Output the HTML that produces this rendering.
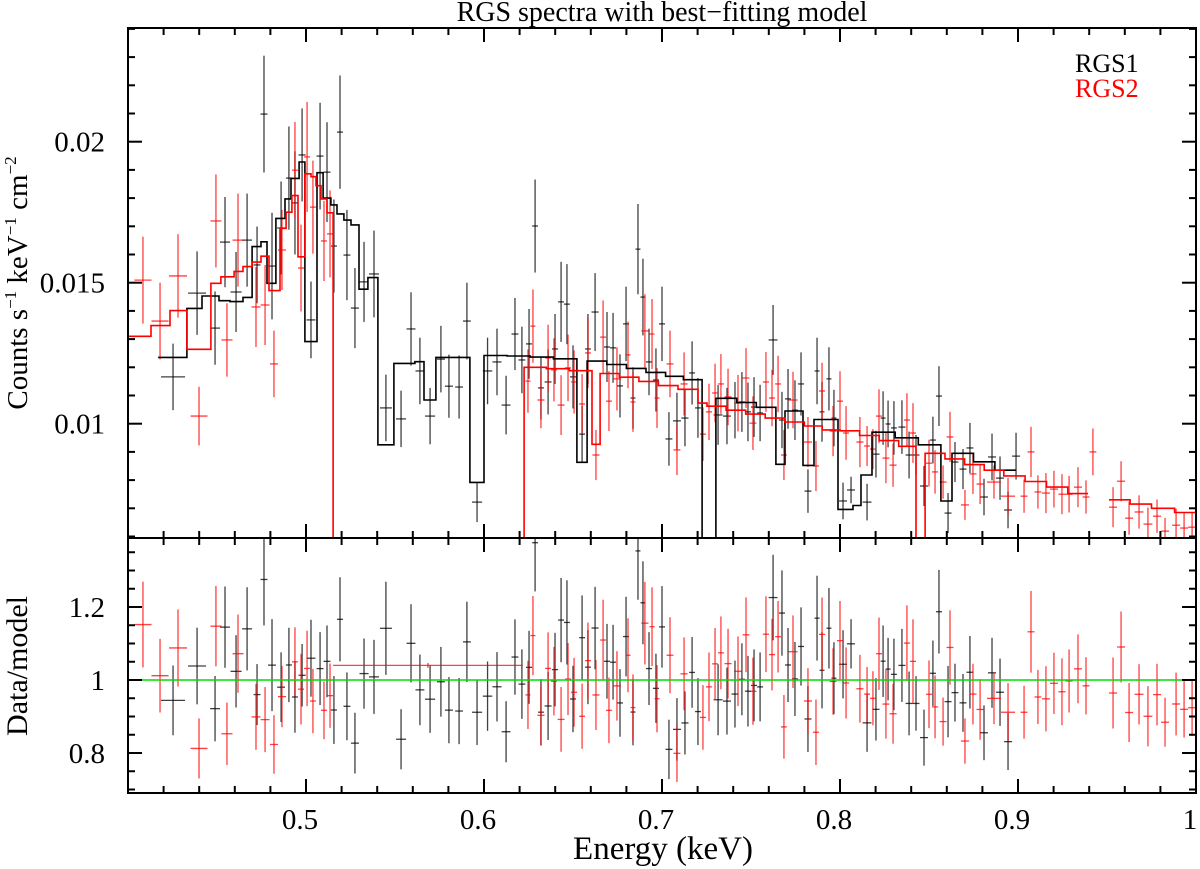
<!DOCTYPE html>
<html><head><meta charset="utf-8"><style>
html,body{margin:0;padding:0;background:#fff;}
svg{display:block;font-family:"Liberation Serif",serif;}
</style></head><body>
<svg id="chart" width="1200" height="869" viewBox="0 0 1200 869" xmlns="http://www.w3.org/2000/svg">
<defs>
<clipPath id="clipTop"><rect x="128" y="28" width="1068" height="510"/></clipPath>
<clipPath id="clipBot"><rect x="128" y="538" width="1068" height="255"/></clipPath>
</defs>
<text x="662" y="21" font-size="28" text-anchor="middle">RGS spectra with best−fitting model</text>
<g id="layer"></g>
<text x="1075" y="72" font-size="26" fill="#000">RGS1</text>
<text x="1075" y="97" font-size="26" fill="#ff0000">RGS2</text>
<text transform="translate(27,283) rotate(-90)" font-size="29" text-anchor="middle">Counts s<tspan font-size="17" dy="-11">−1</tspan><tspan dy="11"> keV</tspan><tspan font-size="17" dy="-11">−1</tspan><tspan dy="11"> cm</tspan><tspan font-size="17" dy="-11">−2</tspan></text>
<text transform="translate(27,666) rotate(-90)" font-size="30" text-anchor="middle">Data/model</text>
<text x="663" y="859" font-size="33" text-anchor="middle">Energy (keV)</text>
</svg>
<script>
// ---- data (energy keV, counts in 1e-3 units) ----
const rgs1E=[0.4253,0.4388,0.4489,0.4545,0.4607,0.4669,0.4725,0.4764,0.4809,0.4860,0.4904,0.4938,0.4978,0.5028,0.5079,0.5118,0.5157,0.5191,0.5230,0.5275,0.5326,0.5382,0.5449,0.5534,0.5590,0.5640,0.5697,0.5758,0.5803,0.5860,0.5904,0.5961,0.6020,0.6073,0.6124,0.6174,0.6213,0.6253,0.6287,0.6320,0.6360,0.6399,0.6433,0.6466,0.6500,0.6551,0.6584,0.6624,0.6691,0.6725,0.6764,0.6798,0.6837,0.6865,0.6893,0.6927,0.6966,0.7000,0.7039,0.7084,0.7129,0.7169,0.7202,0.7315,0.7365,0.7410,0.7449,0.7483,0.7517,0.7551,0.7624,0.7674,0.7708,0.7747,0.7781,0.7820,0.7871,0.7899,0.7938,0.7966,0.8017,0.8062,0.8152,0.8202,0.8242,0.8270,0.8303,0.8348,0.8388,0.8427,0.8472,0.8522,0.8556,0.8607,0.8646,0.8691,0.8730,0.8809,0.8854,0.8899,0.8944,0.8989];
const rgs1V=[11.66,14.63,13.39,16.44,14.67,16.51,15.63,20.98,15.59,16.94,18.71,17.83,19.53,13.68,19.49,18.92,16.30,20.34,15.98,14.10,15.03,15.31,10.56,10.17,13.36,11.87,10.27,12.29,11.33,11.30,13.64,7.22,11.87,12.19,10.66,13.18,12.26,12.83,17.01,11.27,11.48,12.65,14.32,14.24,11.66,9.63,12.65,13.96,12.72,12.69,11.34,13.54,10.91,16.19,14.49,12.19,11.55,13.54,9.46,10.10,10.20,11.80,10.56,10.31,10.27,10.48,10.77,10.42,10.59,10.38,12.97,10.13,10.88,10.48,11.41,7.61,11.87,10.42,11.59,10.20,7.26,7.65,7.22,8.92,10.20,9.99,9.85,9.88,8.89,8.89,7.79,9.42,10.98,6.83,8.64,8.39,9.14,7.40,8.82,8.07,6.94,8.85];
const rgs1Err=[1.18,1.48,1.30,1.60,1.42,1.65,1.36,2.07,1.89,1.65,1.83,1.83,1.65,1.36,1.89,1.77,1.65,2.01,1.60,1.42,1.42,1.54,1.18,1.00,1.30,1.18,1.00,1.18,1.12,1.12,1.36,0.71,1.18,1.18,1.04,1.28,1.18,1.24,1.65,1.12,1.15,1.24,1.42,1.42,1.12,1.00,1.24,1.38,1.24,1.24,1.12,1.32,1.09,1.60,1.36,1.18,1.12,1.32,0.95,1.00,1.00,1.12,1.06,1.06,1.00,1.00,1.06,1.04,1.06,1.00,1.24,1.00,1.06,1.06,1.12,0.77,1.18,1.06,1.12,1.00,0.65,0.47,0.65,0.83,0.95,0.83,0.95,0.95,0.83,0.71,0.71,0.83,1.06,0.71,0.71,0.71,0.89,0.65,0.83,0.77,0.65,0.83];
const rgs2E=[0.4084,0.4180,0.4281,0.4399,0.4494,0.4556,0.4618,0.4719,0.4770,0.4820,0.4865,0.4938,0.4972,0.5006,0.5039,0.5101,0.5135,0.5685,0.6247,0.6275,0.6320,0.6360,0.6393,0.6433,0.6472,0.6506,0.6551,0.6584,0.6629,0.6669,0.6702,0.6747,0.6809,0.6837,0.6904,0.6944,0.6972,0.7045,0.7084,0.7124,0.7230,0.7264,0.7298,0.7331,0.7371,0.7427,0.7472,0.7511,0.7584,0.7618,0.7652,0.7685,0.7736,0.7820,0.7865,0.7899,0.7961,0.8000,0.8034,0.8112,0.8152,0.8185,0.8219,0.8258,0.8298,0.8376,0.8410,0.8500,0.8534,0.8579,0.8618,0.8702,0.8747,0.8787,0.8865,0.8944,0.9034,0.9073,0.9112,0.9157,0.9202,0.9247,0.9287,0.9337,0.9382,0.9421,0.9534,0.9579,0.9624,0.9680,0.9730,0.9781,0.9826,0.9888,0.9933,0.9978];
const rgs2V=[15.09,13.64,15.24,10.27,17.19,12.97,16.51,14.14,14.21,12.12,16.16,18.99,15.52,19.46,17.68,16.48,16.73,3.12,11.51,13.46,10.84,12.33,11.91,10.66,11.98,11.48,10.70,12.51,8.89,13.07,10.80,11.59,12.44,10.77,13.29,13.18,10.91,12.12,9.07,11.41,9.63,10.42,11.09,11.41,10.95,10.73,11.62,10.02,11.48,10.91,11.41,8.89,10.84,9.35,8.50,11.16,9.74,10.80,9.67,9.35,9.21,9.10,10.27,8.78,8.53,10.13,9.67,8.60,8.29,7.93,9.53,7.12,8.22,7.86,7.93,7.43,7.43,9.00,7.58,7.54,7.68,7.50,7.50,7.75,7.40,9.00,7.04,7.96,6.65,6.87,6.44,6.72,6.19,6.40,6.30,6.33];
const rgs2Err=[1.54,1.36,1.48,1.04,1.65,1.30,1.65,1.42,1.42,1.18,1.42,1.71,1.54,1.95,1.65,1.42,1.54,0.02,1.12,1.30,1.00,1.18,1.12,1.06,1.18,1.12,1.06,1.24,0.89,1.30,1.06,1.12,1.18,1.06,1.30,1.24,1.06,1.18,0.89,1.12,0.95,1.00,1.04,1.06,1.00,1.00,1.06,0.95,1.06,1.00,1.00,0.89,1.00,0.89,0.89,1.00,0.89,1.06,0.95,0.89,0.71,0.71,0.95,0.89,0.77,0.95,1.06,0.83,0.77,0.59,0.89,0.53,0.71,0.71,0.59,0.65,0.59,0.89,0.59,0.71,0.65,0.71,0.65,0.71,0.59,0.83,0.71,0.71,0.59,0.59,0.59,0.59,0.47,0.59,0.53,0.53];
// model step functions: bin edges and values
const model1Edges=[0.4169,0.4331,0.4416,0.4511,0.4573,0.4646,0.4697,0.4747,0.4781,0.4831,0.4882,0.4916,0.4961,0.4994,0.5062,0.5096,0.5140,0.5174,0.5213,0.5253,0.5298,0.5348,0.5404,0.5494,0.5612,0.5663,0.5730,0.5921,0.6000,0.6130,0.6260,0.6390,0.6522,0.6579,0.6690,0.6800,0.6910,0.7020,0.7120,0.7225,0.7303,0.7420,0.7530,0.7640,0.7691,0.7792,0.7854,0.7989,0.8073,0.8118,0.8180,0.8310,0.8440,0.8567,0.8629,0.8750,0.8870,0.8989];
const model1Vals=[12.35,14.09,14.53,14.36,14.33,14.48,16.28,16.45,14.98,17.28,17.97,18.70,19.28,12.91,18.90,18.00,17.76,17.44,17.22,17.05,14.77,15.18,9.25,12.14,12.20,10.84,12.35,7.92,12.42,12.40,12.36,12.30,8.63,12.22,12.10,11.96,11.82,11.68,11.56,3.0,10.90,10.75,10.58,8.56,10.45,8.52,10.15,6.96,7.10,8.18,9.70,9.50,9.25,7.26,8.95,8.65,8.35];
const model2Edges=[0.4000,0.4129,0.4236,0.4331,0.4466,0.4522,0.4596,0.4646,0.4697,0.4747,0.4792,0.4854,0.4888,0.4921,0.4955,0.4994,0.5028,0.5056,0.5084,0.5118,0.5152,0.6225,0.6350,0.6480,0.6607,0.6652,0.6760,0.6870,0.6980,0.7090,0.7202,0.7253,0.7360,0.7470,0.7580,0.7690,0.7800,0.7900,0.8000,0.8110,0.8220,0.8330,0.8427,0.8478,0.8590,0.8700,0.8810,0.8920,0.9040,0.9160,0.9280,0.9393];
const model2Vals=[13.10,13.48,14.01,12.64,14.98,15.21,15.40,15.57,15.73,15.94,14.72,16.93,17.50,18.09,15.92,18.86,18.76,18.44,17.97,17.48,3.0,12.00,11.95,11.88,9.27,11.78,11.65,11.50,11.35,11.22,10.73,10.62,10.48,10.34,10.20,10.06,9.92,9.78,9.75,9.58,9.40,9.20,3.0,8.95,8.75,8.55,8.35,8.15,7.95,7.75,7.52];
const model2bEdges=[0.9511,0.9630,0.9750,0.9880,1.0000];
const model2bVals=[7.30,7.15,7.00,6.85];
const xTicks=[0.5,0.6,0.7,0.8,0.9,1.0];
const xTickLabels=["0.5","0.6","0.7","0.8","0.9","1"];
const yTopTicks=[10,15,20];
const yTopLabels=["0.01","0.015","0.02"];
const yBotTicks=[0.8,1.0,1.2];
const yBotLabels=["0.8","1","1.2"];

const NS="http://www.w3.org/2000/svg";
const L=128,R=1196,T1=28,B1=538,T2=538,B2=793;
const xs=e=>L+(e-0.4)*1780;
const yTop=v=>141.7+(20-v)*28.2;
const yBot=r=>680-(r-1)*365;
const layer=document.getElementById('layer');
function mk(tag,attrs,parent){const el=document.createElementNS(NS,tag);for(const k in attrs)el.setAttribute(k,attrs[k]);(parent||layer).appendChild(el);return el;}
function modelAt(edges,vals,e){for(let i=0;i<vals.length;i++){if(e>=edges[i]&&e<edges[i+1])return vals[i];}return null;}
function model2At(e){let m=modelAt(model2Edges,model2Vals,e);if(m===null)m=modelAt(model2bEdges,model2bVals,e);return m;}
function model1At(e){let m=modelAt(model1Edges,model1Vals,e);if(m===null&&e<model1Edges[0])m=model1Vals[0];return m;}

const gTop=mk('g',{'clip-path':'url(#clipTop)'});


const gBot=mk('g',{'clip-path':'url(#clipBot)'});



function stepPath(edges,vals){let d='';for(let i=0;i<vals.length;i++){const x0=xs(edges[i]),x1=xs(edges[i+1]),y=yTop(vals[i]);d+=(i===0?'M':'L')+x0.toFixed(1)+','+y.toFixed(1)+'L'+x1.toFixed(1)+','+y.toFixed(1);}return d;}
function halfWidths(E){return E.map((e,i)=>{const p=i>0?e-E[i-1]:1,n=i<E.length-1?E[i+1]-e:1;let h=Math.min(p,n)/2;if(h>0.012)h=0.012;return h;});}

function drawData(E,V,Er,color,modelFn,name){
  const hw=halfWidths(E);
  for(let i=0;i<E.length;i++){
    let h=hw[i];
    if(name==='rgs2'&&V[i]<5)h=0.0533;
    const x=xs(E[i]),y=yTop(V[i]),ey=Er[i]*28.2;
    const g=mk('g',{stroke:color,'stroke-width':1.3,'stroke-opacity':0.75},gTop);
    
    
    mk('line',{x1:xs(E[i]-h),x2:xs(E[i]+h),y1:y,y2:y},g);
    mk('line',{x1:x,x2:x,y1:y-ey,y2:y+ey},g);
    const m=modelFn(E[i]);
    if(m){
      const r=V[i]/m,er=Er[i]/m,yr=yBot(r);
      const g2=mk('g',{stroke:color,'stroke-width':1.3,'stroke-opacity':0.75},gBot);
      
      
      mk('line',{x1:xs(E[i]-h),x2:xs(E[i]+h),y1:yr,y2:yr},g2);
      if(er*365>1)mk('line',{x1:x,x2:x,y1:yr-er*365,y2:yr+er*365},g2);
    }
  }
}
drawData(rgs1E,rgs1V,rgs1Err,'#000',model1At,'rgs1');
drawData(rgs2E,rgs2V,rgs2Err,'#ff0000',model2At,'rgs2');

const m1=mk('path',{d:stepPath(model1Edges,model1Vals),fill:'none',stroke:'#000','stroke-width':1.6},gTop);


const m2=mk('path',{d:stepPath(model2Edges,model2Vals),fill:'none',stroke:'#ff0000','stroke-width':1.6},gTop);


const m2b=mk('path',{d:stepPath(model2bEdges,model2bVals),fill:'none',stroke:'#ff0000','stroke-width':1.6},gTop);



const unity=mk('line',{x1:L,x2:R,y1:yBot(1),y2:yBot(1),stroke:'#00dd00','stroke-width':1.6});



const ax=mk('g',{stroke:'#000','stroke-width':2,fill:'none'});


mk('rect',{x:L,y:T1,width:R-L,height:B2-T1},ax);
mk('line',{x1:L,x2:R,y1:B1,y2:B1},ax);
for(let k=0;k<=30;k++){
  const e=0.4+k*0.02;const x=xs(e);const major=(k%5===0);const len=major?14:7;
  [[T1,1],[B1,-1],[T2,1],[B2,-1]].forEach(([y,s])=>mk('line',{x1:x,x2:x,y1:y,y2:y+s*len},ax));
}
for(let v=6;v<=24;v++){const y=yTop(v);if(y<T1||y>B1)continue;const major=(v%5===0);const len=major?14:7;
  mk('line',{x1:L,x2:L+len,y1:y,y2:y},ax);mk('line',{x1:R,x2:R-len,y1:y,y2:y},ax);}
for(let k=14;k<=28;k++){const r=k*0.05;const y=yBot(r);if(y<T2+1||y>B2-1)continue;const major=(k%4===0);const len=major?14:7;
  mk('line',{x1:L,x2:L+len,y1:y,y2:y},ax);mk('line',{x1:R,x2:R-len,y1:y,y2:y},ax);}
xTicks.forEach((t,i)=>{const tx=mk('text',{x:xs(t)-6,y:829,'font-size':29,'text-anchor':'middle'});tx.textContent=xTickLabels[i];
  
  });
yTopTicks.forEach((t,i)=>{const tx=mk('text',{x:105,y:yTop(t)+10,'font-size':29,'text-anchor':'end'});tx.textContent=yTopLabels[i];
  
  });
yBotTicks.forEach((t,i)=>{const tx=mk('text',{x:105,y:yBot(t)+10,'font-size':29,'text-anchor':'end'});tx.textContent=yBotLabels[i];
  
  });
</script>
</body></html>
